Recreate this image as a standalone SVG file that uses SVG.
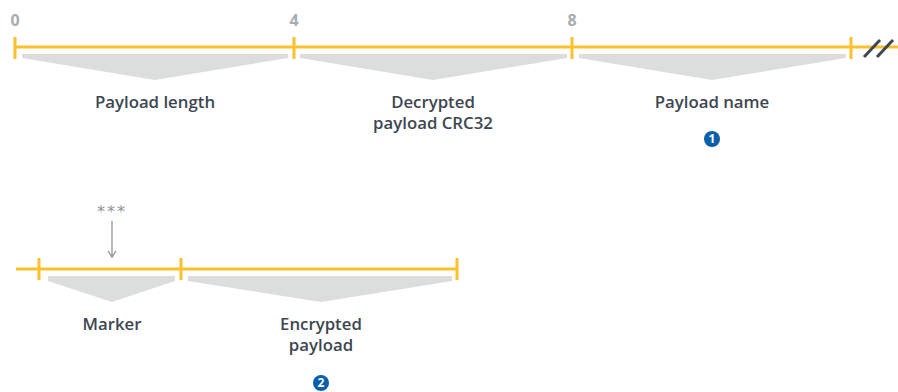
<svg xmlns="http://www.w3.org/2000/svg" width="898" height="392" viewBox="0 0 898 392">
<style>
.bar{stroke:#fbc02d;stroke-width:3;fill:none}
.tick{stroke:#fbc02d;stroke-width:3}
.fan{fill:#dcdddd}
.lbl{font-family:"Open Sans","Noto Sans",sans-serif;font-weight:600;font-size:16.8px;fill:#3d4651;text-anchor:middle}
.num{font-family:"Open Sans","Noto Sans",sans-serif;font-weight:700;font-size:16px;fill:#a9acb0;text-anchor:middle}
.badge{fill:#0b5ea8}
.bt{font-family:"Open Sans","Noto Sans",sans-serif;font-weight:700;font-size:12px;fill:#fff;text-anchor:middle}
.slash{stroke:#3f4750;stroke-width:3}
.grey{stroke:#8f9499;stroke-width:1.3;fill:none}
</style>
<g id="connectors">
<line class="bar" x1="15" y1="47" x2="898" y2="47"/>
<line class="tick" x1="15" y1="37" x2="15" y2="59"/>
<line class="tick" x1="294" y1="37" x2="294" y2="59"/>
<line class="tick" x1="572" y1="37" x2="572" y2="59"/>
<line class="tick" x1="851" y1="37" x2="851" y2="59"/>
<line class="slash" x1="864" y1="57" x2="880" y2="40"/>
<line class="slash" x1="877" y1="57" x2="893" y2="40"/>
<line class="bar" x1="16" y1="269" x2="458" y2="269"/>
<line class="tick" x1="39" y1="258" x2="39" y2="280"/>
<line class="tick" x1="181" y1="258" x2="181" y2="280"/>
<line class="tick" x1="457" y1="258" x2="457" y2="280"/>
<line class="grey" x1="112" y1="221" x2="112" y2="257"/>
<path class="grey" d="M108,251 L112,257 L116,251"/>
</g>
<text class="num" x="15" y="26">0</text>
<text class="num" x="294" y="26">4</text>
<text class="num" x="572" y="26">8</text>
<g id="payload-length">
<path class="fan" d="M22,54 H288 V58 L155,80 L22,58 Z"/>
<text class="lbl" x="155" y="108">Payload length</text>
</g>
<g id="decrypted-crc">
<path class="fan" d="M300,54 H567 V58 L433,80 L300,58 Z"/>
<text class="lbl" x="433" y="108">Decrypted</text>
<text class="lbl" x="433" y="129">payload CRC32</text>
</g>
<g id="payload-name">
<path class="fan" d="M579,54 H846 V58 L712,80 L579,58 Z"/>
<text class="lbl" x="712" y="108">Payload name</text>
<circle class="badge" cx="712" cy="139" r="8"/>
<text class="bt" x="712" y="143.3">1</text>
</g>
<g id="stars">
<text x="112" y="217" style="font-family:'DejaVu Sans',sans-serif;font-size:16px;fill:#8f9499;text-anchor:middle;letter-spacing:2px">***</text>
</g>
<g id="marker">
<path class="fan" d="M48,276 H175 V281 L112,302 L48,281 Z"/>
<text class="lbl" x="112" y="330">Marker</text>
</g>
<g id="encrypted-payload">
<path class="fan" d="M188,276 H452 V281 L321,302 L188,281 Z"/>
<text class="lbl" x="321" y="330">Encrypted</text>
<text class="lbl" x="321" y="351">payload</text>
<circle class="badge" cx="321" cy="383" r="8"/>
<text class="bt" x="321" y="387.3">2</text>
</g>
</svg>
